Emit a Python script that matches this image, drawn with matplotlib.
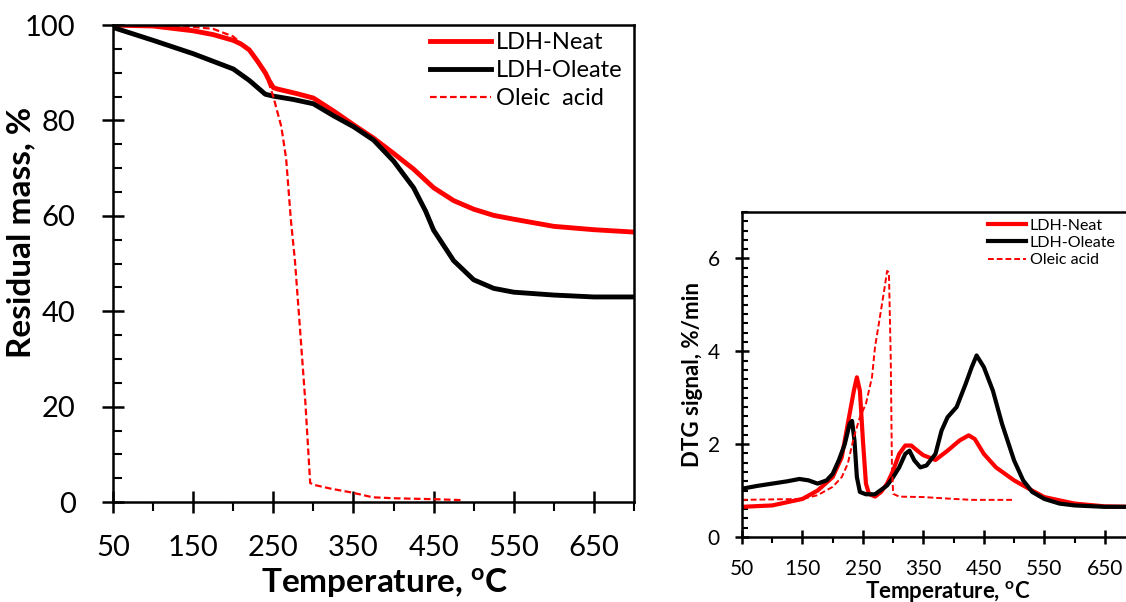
import numpy as np
import matplotlib
matplotlib.use("Agg")
import matplotlib.pyplot as plt
from matplotlib.ticker import MultipleLocator, FixedLocator

plt.rcParams['font.family'] = ['Lato', 'DejaVu Sans']
plt.rcParams['mathtext.default'] = 'regular'

# TGA: residual mass, %
tga_neat_t = [50, 100, 150, 175, 200, 210, 220, 230, 240, 245, 250, 255, 260, 280, 300, 325, 350, 375, 400, 425, 450, 475, 500, 525, 550, 600, 650, 700]
tga_neat_m = [100, 99.8, 98.8, 98, 96.8, 96, 94.8, 92.5, 90, 88.3, 86.9, 86.6, 86.4, 85.6, 84.7, 82, 79.1, 76.3, 73.1, 69.8, 65.9, 63.2, 61.4, 60.1, 59.3, 57.8, 57.1, 56.6]

tga_oleate_t = [50, 100, 150, 200, 220, 240, 250, 275, 300, 325, 350, 375, 400, 425, 440, 450, 475, 500, 525, 550, 600, 650, 700]
tga_oleate_m = [99.5, 96.8, 94, 90.8, 88.4, 85.5, 85.1, 84.4, 83.5, 81, 78.7, 75.9, 71.5, 65.9, 61, 57, 50.6, 46.6, 44.8, 44, 43.4, 43, 43]

tga_oleic_t = [50, 150, 175, 200, 225, 240, 250, 260, 266, 272, 277, 283, 290, 296, 301, 322, 348, 374, 400, 451, 487]
tga_oleic_m = [100, 99.6, 99.2, 97.6, 94, 90, 85, 78.7, 72, 59, 50.6, 37, 20.9, 4, 3.6, 2.8, 2, 1, 0.8, 0.6, 0.4]

# DTG signal, %/min
dtg_neat_t = [50, 100, 150, 175, 200, 215, 225, 235, 240, 245, 250, 255, 260, 270, 280, 290, 300, 310, 320, 330, 340, 350, 370, 390, 410, 425, 435, 450, 470, 500, 530, 550, 600, 650, 700]
dtg_neat_v = [0.65, 0.68, 0.82, 1.0, 1.29, 1.72, 2.44, 3.15, 3.44, 3.15, 2.08, 1.15, 0.93, 0.87, 0.97, 1.15, 1.43, 1.79, 1.97, 1.97, 1.86, 1.76, 1.66, 1.86, 2.08, 2.19, 2.11, 1.79, 1.5, 1.22, 1.0, 0.86, 0.72, 0.66, 0.65]

dtg_oleate_t = [50, 75, 100, 125, 145, 160, 175, 190, 200, 210, 220, 228, 232, 236, 240, 245, 255, 270, 290, 300, 310, 320, 327, 335, 345, 355, 370, 380, 390, 405, 420, 430, 438, 450, 465, 480, 500, 515, 530, 550, 575, 600, 650, 700]
dtg_oleate_v = [1.04, 1.1, 1.15, 1.2, 1.25, 1.22, 1.15, 1.22, 1.36, 1.65, 2.0, 2.44, 2.5, 2.08, 1.29, 0.97, 0.92, 0.92, 1.11, 1.29, 1.5, 1.79, 1.86, 1.65, 1.5, 1.54, 1.79, 2.29, 2.58, 2.8, 3.3, 3.66, 3.91, 3.66, 3.15, 2.44, 1.65, 1.22, 0.97, 0.82, 0.72, 0.68, 0.65, 0.65]

dtg_oleic_t = [50, 150, 175, 200, 215, 225, 235, 245, 255, 265, 270, 278, 285, 290, 293, 296, 298, 300, 310, 350, 400, 430, 500]
dtg_oleic_v = [0.8, 0.82, 0.9, 1.08, 1.29, 1.58, 2.15, 2.58, 2.87, 3.44, 4.09, 4.73, 5.3, 5.73, 5.7, 3.87, 1.5, 0.93, 0.87, 0.86, 0.82, 0.8, 0.8]

labels = ["LDH-Neat", "LDH-Oleate", "Oleic  acid"]
x_ticks = [50, 150, 250, 350, 450, 550, 650]
x_minor = [100, 200, 300, 400, 500, 600, 700]

fig = plt.figure(figsize=(11.26, 6.02), dpi=100)


def style_axes(ax, tick_size, ylocs, major_len, minor_len, xpad, ypad):
    for s in ax.spines.values():
        s.set_linewidth(1.8)
    ax.xaxis.set_major_locator(FixedLocator(x_ticks))
    ax.xaxis.set_minor_locator(FixedLocator(x_minor))
    ax.yaxis.set_major_locator(MultipleLocator(ylocs[0]))
    ax.yaxis.set_minor_locator(MultipleLocator(ylocs[1]))
    ax.tick_params(which='major', direction='inout', length=major_len, width=1.8, labelsize=tick_size)
    ax.tick_params(which='minor', direction='in', length=minor_len, width=1.5)
    ax.tick_params(top=False, right=False, which='both')
    ax.xaxis.set_tick_params(which='minor', direction='out')
    ax.xaxis.set_tick_params(which='major', pad=xpad)
    ax.yaxis.set_tick_params(which='major', pad=ypad)


# left panel: TGA
ax1 = fig.add_axes([113 / 1126, 0.166, 521 / 1126, 477 / 602])
ax1.plot(tga_neat_t, tga_neat_m, color='#ff0000', lw=3.5, label=labels[0])
ax1.plot(tga_oleate_t, tga_oleate_m, color='black', lw=3.5, label=labels[1])
ax1.plot(tga_oleic_t, tga_oleic_m, color='#ff0000', lw=1.6, ls=(0, (3, 1.5)), label=labels[2])
ax1.set_xlim(50, 700)
ax1.set_ylim(0, 100)
style_axes(ax1, 21, (20, 5), 16, 6.5, 16, 19)
ax1.set_xlabel("Temperature, $^{o}$C", fontsize=24, fontweight='bold')
ax1.set_ylabel("Residual mass, %", fontsize=24, fontweight='bold')
ax1.xaxis.set_label_coords(0.522, -0.135)
ax1.yaxis.set_label_coords(-0.15, 0.565)
ax1.legend(loc='upper left', bbox_to_anchor=(0.608, 0.985), fontsize=17, frameon=False,
           handlelength=2.6, handletextpad=0.2, labelspacing=0.3, borderaxespad=0, borderpad=0)

# right panel: DTG
ax2 = fig.add_axes([742 / 1126, 65 / 602, 393 / 1126, 325 / 602])
ax2.plot(dtg_neat_t, dtg_neat_v, color='#ff0000', lw=3, label=labels[0])
ax2.plot(dtg_oleate_t, dtg_oleate_v, color='black', lw=3, label=labels[1])
ax2.plot(dtg_oleic_t, dtg_oleic_v, color='#ff0000', lw=1.4, ls=(0, (3, 1.5)), label=labels[2].replace("  ", " "))
ax2.set_xlim(50, 700)
ax2.set_ylim(0, 7)
style_axes(ax2, 15, (2, 0.2), 10, 4.3, 11, 11)
ax2.set_xlabel("Temperature, $^{o}$C", fontsize=16, fontweight='bold')
ax2.set_ylabel("DTG signal, %/min", fontsize=16, fontweight='bold')
ax2.xaxis.set_label_coords(0.523, -0.13)
ax2.yaxis.set_label_coords(-0.1, 0.5)
ax2.legend(loc='upper left', bbox_to_anchor=(0.625, 0.98), fontsize=11.5, frameon=False,
           handlelength=2.4, handletextpad=0.25, labelspacing=0.2, borderaxespad=0, borderpad=0)

fig.savefig("out.png", dpi=100)
